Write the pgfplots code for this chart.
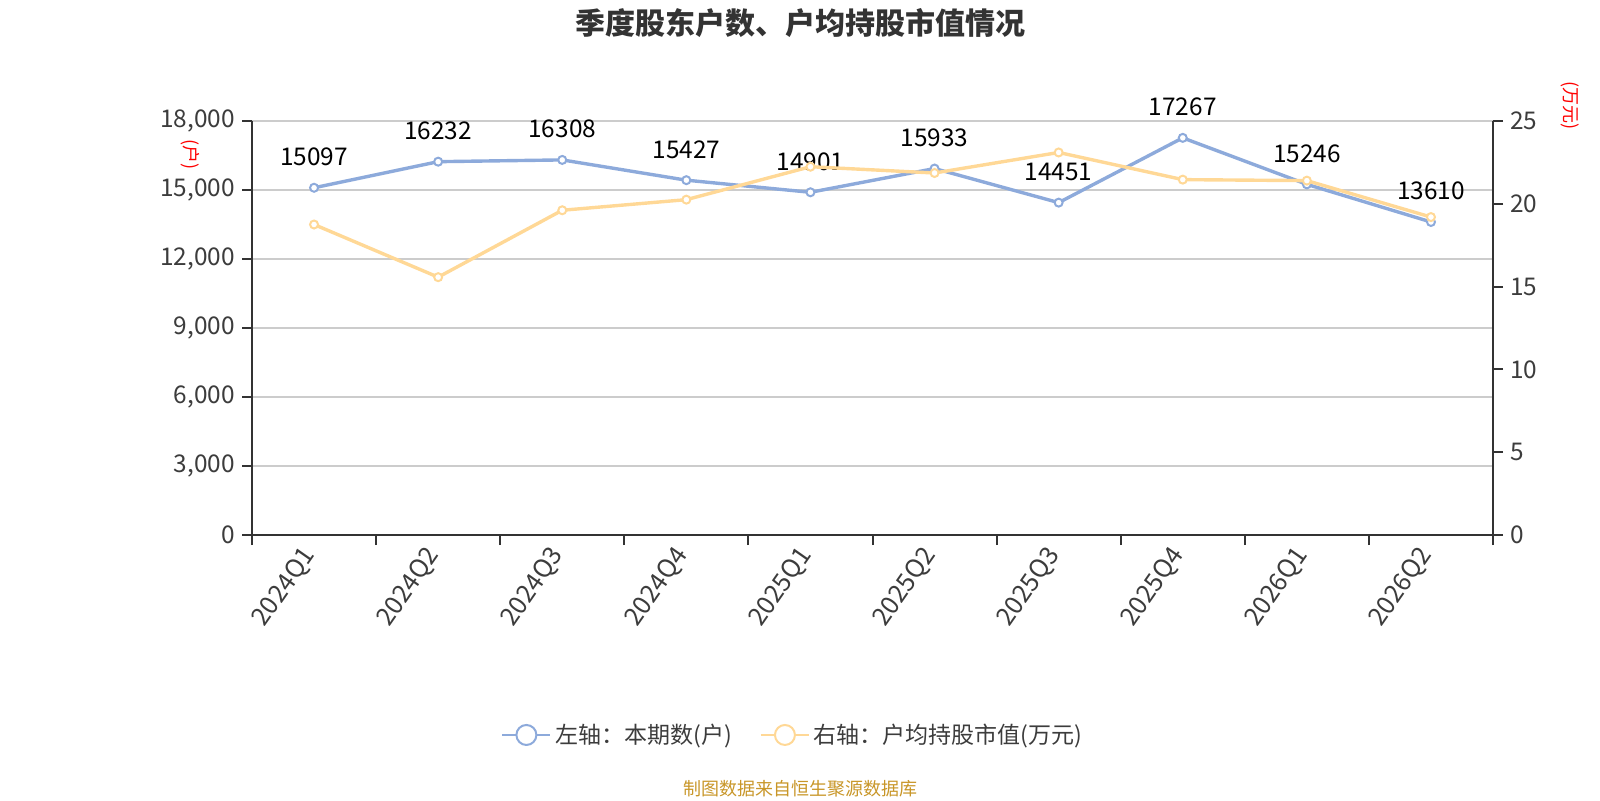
\documentclass[border=0pt]{standalone}
\usepackage{fontspec}
\setmainfont{Noto Sans CJK SC}
\usepackage{pgfplots}
\pgfplotsset{compat=1.18}
\definecolor{cblue}{RGB}{141,170,219}
\definecolor{corange}{RGB}{255,216,150}
\definecolor{axgray}{RGB}{51,51,51}
\definecolor{gridgray}{RGB}{204,204,204}
\definecolor{txtgray}{RGB}{60,60,60}
\definecolor{foot}{RGB}{200,150,40}
\begin{document}
\begin{tikzpicture}[x=1pt,y=1pt]
\path[use as bounding box] (0,0) rectangle (800,400);
\begin{axis}[
  at={(126pt,132.5pt)}, anchor=south west,
  width=620.5pt, height=207pt, scale only axis,
  xmin=-0.5, xmax=9.5, ymin=0, ymax=18000,
  axis y line*=left, axis x line*=bottom,
  axis line style={axgray, line width=1pt},
  xtick={0,...,9},
  xticklabels={2024Q1,2024Q2,2024Q3,2024Q4,2025Q1,2025Q2,2025Q3,2025Q4,2026Q1,2026Q2},
  minor xtick={-0.5,0.5,...,9.5},
  major x tick style={draw=none},
  minor x tick style={axgray, line width=1pt},
  minor tick length=5pt,
  ytick={0,3000,...,18000},
  y tick style={axgray, line width=1pt},
  major tick length=5pt,
  tick align=outside,
  ymajorgrids, grid style={gridgray, line width=0.6pt},
  scaled y ticks=false,
  /pgf/number format/.cd, 1000 sep={,}, assume math mode=true, /pgfplots/.cd,
  yticklabel style={font=\fontsize{12.2}{14}\selectfont, text=txtgray},
  xticklabel style={rotate=55, anchor=east, font=\fontsize{12.6}{14}\selectfont, text=txtgray},
  legend style={draw=none, fill=none, legend columns=2,
    at={(axis description cs:0.4367,-0.483)}, anchor=center,
    font=\fontsize{11.5}{13}\selectfont, text=txtgray,
    /tikz/every even column/.append style={column sep=12pt}},
  clip=false,
]
\addplot[cblue, line width=1.7pt, mark=*, mark size=2pt,
  mark options={fill=white, draw=cblue, line width=1pt},
  point meta=explicit symbolic,
  nodes near coords,
  every node near coord/.append style={anchor=south, yshift=7pt, text=black, font=\fontsize{12.2}{14}\selectfont},
  legend image code/.code={\draw[cblue, line width=1pt] (0pt,0pt) -- (24pt,0pt); \draw[cblue, line width=1pt, fill=white] (12pt,0pt) circle (5pt);}
] coordinates {
 (0,15097) [15097]
 (1,16232) [16232]
 (2,16308) [16308]
 (3,15427) [15427]
 (4,14901) [14901]
 (5,15933) [15933]
 (6,14451) [14451]
 (7,17267) [17267]
 (8,15246) [15246]
 (9,13610) [13610]
};
\addlegendentry{左轴：本期数(户)}
\addlegendimage{legend image code/.code={\draw[corange, line width=1pt] (0pt,0pt) -- (24pt,0pt); \draw[corange, line width=1pt, fill=white] (12pt,0pt) circle (5pt);}}
\addlegendentry{右轴：户均持股市值(万元)}
\end{axis}
\begin{axis}[
  at={(126pt,132.5pt)}, anchor=south west,
  width=620.5pt, height=207pt, scale only axis,
  xmin=-0.5, xmax=9.5, ymin=0, ymax=25,
  axis y line*=right, axis x line=none,
  axis line style={axgray, line width=1pt},
  ytick={0,5,...,25},
  y tick style={axgray, line width=1pt},
  major tick length=5pt,
  tick align=outside,
  /pgf/number format/.cd, assume math mode=true, /pgfplots/.cd,
  yticklabel style={font=\fontsize{12.2}{14}\selectfont, text=txtgray},
  clip=false,
]
\addplot[corange, line width=1.7pt, mark=*, mark size=2pt,
  mark options={fill=white, draw=corange, line width=1pt}] coordinates {
 (0,18.75) (1,15.57) (2,19.61) (3,20.25) (4,22.24)
 (5,21.86) (6,23.10) (7,21.46) (8,21.40) (9,19.20)
};
\end{axis}
\node[font=\bfseries\fontsize{15}{17}\selectfont, text=axgray] at (400,388.5) {季度股东户数、户均持股市值情况};
\node[font=\fontsize{9}{11}\selectfont, text=foot] at (400,5.5) {制图数据来自恒生聚源数据库};
\node[font=\fontsize{9}{11}\selectfont, text=red, rotate=-90] at (95,322.5) {(户)};
\node[font=\fontsize{9}{11}\selectfont, text=red, rotate=-90] at (785,347) {(万元)};
\end{tikzpicture}
\end{document}
